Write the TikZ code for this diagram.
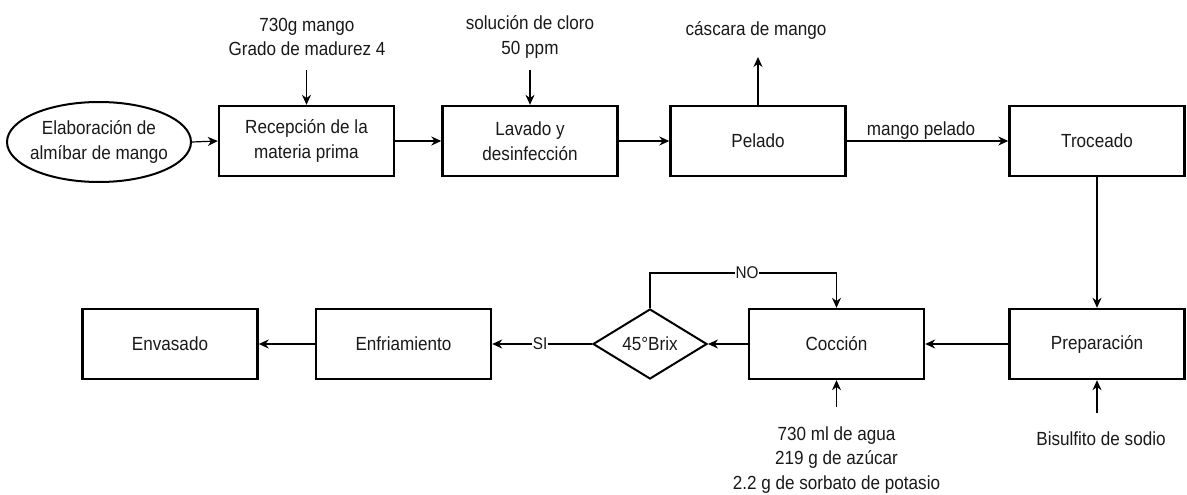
\documentclass[tikz,border=0pt]{standalone}
\usepackage{fontspec}
\setmainfont{Liberation Sans}[FakeStretch=0.9]
\usetikzlibrary{shapes.geometric,arrows.meta}
\begin{document}
\begin{tikzpicture}[x=1pt,y=-1pt,
  txt/.style={inner sep=0pt,align=center,text=black!90,font=\fontsize{19}{24.5}\selectfont},
  box/.style={txt,draw,line width=2.4pt,minimum width=175pt,minimum height=70pt},
  term/.style={txt,draw,ellipse,line width=2pt,inner xsep=-20pt,minimum width=184pt,minimum height=80pt},
  dec/.style={txt,draw,diamond,line width=2pt,minimum width=114pt,minimum height=70pt},
  lbl/.style={fill=white,inner sep=1pt,text=black!90,font=\fontsize{17}{20}\selectfont},
  arr/.style={line width=1.2pt,-{Stealth[length=10pt,width=9pt]}},
  ln/.style={line width=1.2pt}]
\useasboundingbox (0,0) rectangle (1187,495);
% top row
\node[term] (ell) at (99,142) {Elaboración de\\almíbar de mango};
\node[box] (rec) at (306.5,141) {Recepción de la\\materia prima};
\node[box] (lav) at (530,141) {Lavado y\\desinfección};
\node[box] (pel) at (758,141) {Pelado};
\node[box] (tro) at (1097,141) {Troceado};
% bottom row
\node[box] (pre) at (1097,344) {Preparación};
\node[box] (coc) at (836.5,344) {Cocción};
\node[dec] (dia) at (650,344) {45°Brix};
\node[box] (enf) at (403.5,344) {Enfriamiento};
\node[box] (env) at (170,344) {Envasado};
% texts
\node[txt] (t1) at (307,37) {730g mango\\Grado de madurez 4};
\node[txt] (t2) at (530,37) {solución de cloro\\50 ppm};
\node[txt] (t3) at (756,30) {cáscara de mango};
\node[txt] (t4) at (836.5,460) {730 ml de agua\\219 g de azúcar\\2.2 g de sorbato de potasio};
\node[txt] (t5) at (1101,439) {Bisulfito de sodio};
% coordinates
\coordinate (c1) at (306.5,70);
\coordinate (c2) at (530,70);
\coordinate (c3) at (758,57);
\coordinate (c4) at (836.5,407);
\coordinate (c5) at (1097,413);
\coordinate (n1) at (650,273);
\coordinate (n2) at (836.5,273);
% connectors
\draw[arr] (ell.east) -- (rec.west);
\draw[arr] (rec.east) -- (lav.west);
\draw[arr] (lav.east) -- (pel.west);
\draw[arr] (pel.east) -- node[pos=0.46,above=-1.5pt,text=black!90,font=\fontsize{19}{24}\selectfont,inner sep=2pt] {mango pelado} (tro.west);
\draw[arr] (c1) -- (rec.north);
\draw[arr] (c2) -- (lav.north);
\draw[arr] (pel.north) -- (c3);
\draw[arr] (tro.south) -- (pre.north);
\draw[arr] (c5) -- (pre.south);
\draw[arr] (c4) -- (coc.south);
\draw[arr] (pre.west) -- (coc.east);
\draw[arr] (coc.west) -- (dia.east);
\draw[arr] (dia.north) -- (n1) -- node[lbl,pos=0.52] {NO} (n2) -- (coc.north);
\draw[arr] (dia.west) -- node[lbl,pos=0.52] {SI} (enf.east);
\draw[arr] (enf.west) -- (env.east);
\end{tikzpicture}
\end{document}
